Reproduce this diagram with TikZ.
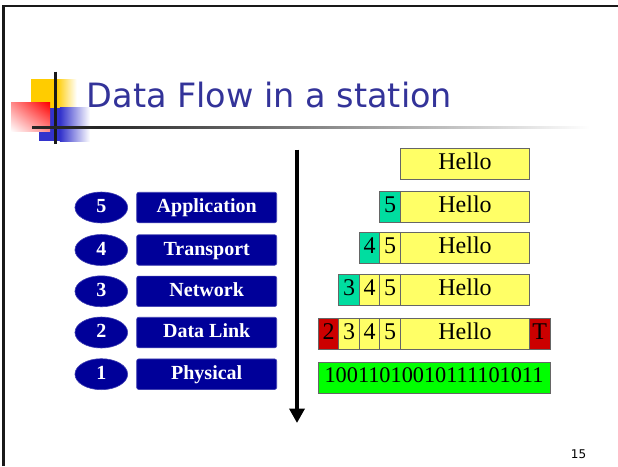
\documentclass[tikz,border=0pt]{standalone}
\usepackage{fontspec}
\setmainfont{Liberation Serif}
\newfontfamily\titlefont{DejaVu Sans}
\usetikzlibrary{shapes.geometric,arrows.meta,shadings}
\definecolor{navy}{HTML}{000099}
\definecolor{titleblue}{HTML}{333399}
\definecolor{pktyellow}{HTML}{FFFF66}
\definecolor{pktteal}{HTML}{00DDA0}
\definecolor{pktred}{HTML}{CC0000}
\definecolor{pktgreen}{HTML}{00FF00}
\definecolor{logoyellow}{HTML}{FFCC00}
\definecolor{logoblue}{HTML}{3333CC}
\definecolor{logored}{HTML}{FF0000}
\tikzset{
  layerbox/.style={rectangle, rounded corners=2pt, fill=navy, draw=navy!75!white, line width=0.6pt,
    minimum width=140pt, minimum height=30.5pt, inner sep=0pt, text=white,
    font=\fontsize{20}{20}\selectfont\bfseries, text height=14pt, text depth=4pt},
  layernum/.style={ellipse, fill=navy, draw=navy!75!white, line width=0.6pt,
    minimum width=52.7pt, minimum height=31pt, inner sep=0pt, text=white,
    font=\fontsize{20}{20}\selectfont\bfseries, text height=14pt, text depth=4pt},
  cell/.style={rectangle, draw=black!60, line width=0.7pt, minimum height=31pt, inner sep=0pt,
    font=\fontsize{24}{24}\selectfont, text height=16pt, text depth=5pt},
  hdr/.style={cell, minimum width=20.5pt, fill=pktyellow},
  newhdr/.style={hdr, fill=pktteal},
  redhdr/.style={hdr, fill=pktred},
  payload/.style={cell, fill=pktyellow, minimum width=128.6pt},
  bits/.style={cell, fill=pktgreen, minimum width=232pt,
    font=\fontsize{22.3}{22.3}\selectfont, text height=15pt, text depth=5.5pt},
  frameline/.style={draw=black!90, line width=2.5pt},
  flowarrow/.style={line width=4pt, -{Triangle[width=15pt,length=14.5pt]}}
}
\begin{document}
\begin{tikzpicture}[x=1pt,y=-1pt]
\useasboundingbox (0,0) rectangle (618,466);
% slide frame
\coordinate (fl) at (3.3,466);
\coordinate (fc) at (3.3,6);
\coordinate (fr) at (618,6);
\draw[frameline] (fl) -- (fc) -- (fr);

% logo
\fill[logoyellow] (31,79) rectangle (56.7,107.7);
\shade[left color=logoyellow, right color=white] (56.6,79) rectangle (76.7,107.7);
\fill[logoblue] (39,107.7) rectangle (60,141);
\shade[left color=logoblue, right color=white] (59.9,107.7) rectangle (90,141);
\shade[upper right=logored, lower left=white, upper left=logored!45!white, lower right=logored!45!white]
  (11,102.7) rectangle (50,131.7);
\coordinate (lv1) at (55.3,71.7);
\coordinate (lv2) at (55.3,144);
\draw[black!90, line width=3pt] (lv1) -- (lv2);
% title rule
\fill[black!85] (31.7,126) rectangle (100,128.7);
\shade[left color=black!85, right color=white] (99.9,126) rectangle (590,128.7);

% title
\node[anchor=base west, text=titleblue, font=\titlefont\fontsize{33.5}{33.5}\selectfont, inner sep=0pt]
  (title) at (86.5,107) {Data Flow in a station};

% layers
\node[layernum] (n5) at (101.3,207.5) {5};
\node[layerbox] (l5) at (206.7,207.5) {Application};
\node[layernum] (n4) at (101.3,250) {4};
\node[layerbox] (l4) at (206.7,250) {Transport};
\node[layernum] (n3) at (101.3,291.3) {3};
\node[layerbox] (l3) at (206.7,291.3) {Network};
\node[layernum] (n2) at (101.3,332.5) {2};
\node[layerbox] (l2) at (206.7,332.5) {Data Link};
\node[layernum] (n1) at (101.3,374.2) {1};
\node[layerbox] (l1) at (206.7,374.2) {Physical};

% flow arrow
\coordinate (atop) at (297,149.5);
\coordinate (abot) at (297,423);
\draw[flowarrow] (atop) -- (abot);

% packets
\node[payload] (p0) at (465,163.7) {Hello};

\node[payload] (p1) at (465,207.2) {Hello};
\node[newhdr] (p1a) at (390,207.2) {5};

\node[payload] (p2) at (465,248) {Hello};
\node[hdr] (p2a) at (390,248) {5};
\node[newhdr] (p2b) at (369.5,248) {4};

\node[payload] (p3) at (465,289.5) {Hello};
\node[hdr] (p3a) at (390,289.5) {5};
\node[hdr] (p3b) at (369.5,289.5) {4};
\node[newhdr] (p3c) at (349,289.5) {3};

\node[payload] (p4) at (465,333.5) {Hello};
\node[hdr] (p4a) at (390,333.5) {5};
\node[hdr] (p4b) at (369.5,333.5) {4};
\node[hdr] (p4c) at (349,333.5) {3};
\node[redhdr] (p4d) at (328.5,333.5) {2};
\node[redhdr] (p4t) at (539.7,333.5) {T};

\node[bits] (p5) at (434,377.8) {10011010010111101011};

% page number
\node[anchor=base, font=\titlefont\fontsize{12}{12}\selectfont, inner sep=0pt] (pnum) at (578.5,458.3) {15};
\end{tikzpicture}
\end{document}
